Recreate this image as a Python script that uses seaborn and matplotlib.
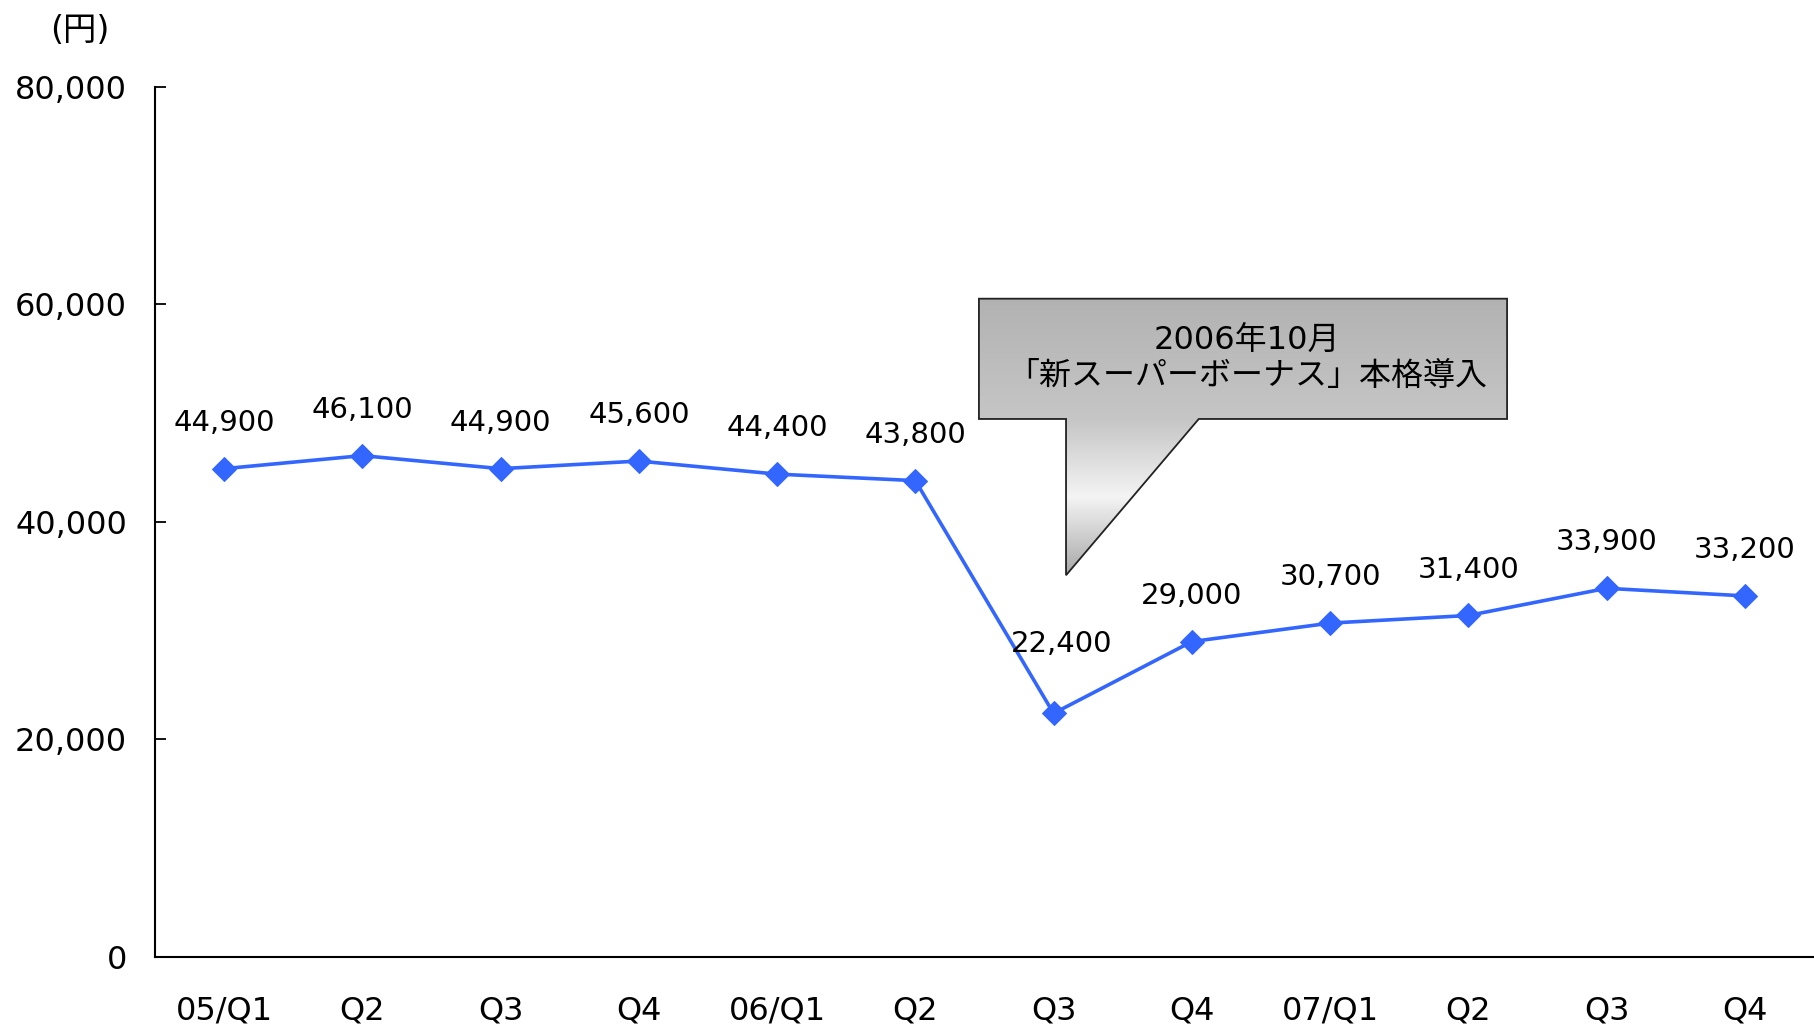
import numpy as np
import pandas as pd
import seaborn as sns
import matplotlib
matplotlib.use("Agg")
import matplotlib.pyplot as plt
from matplotlib.patches import Polygon
from matplotlib.colors import LinearSegmentedColormap

quarters = ["05/Q1", "Q2", "Q3", "Q4", "06/Q1", "Q2", "Q3", "Q4", "07/Q1", "Q2", "Q3", "Q4"]
values = [44900, 46100, 44900, 45600, 44400, 43800, 22400, 29000, 30700, 31400, 33900, 33200]
y_ticks = [0, 20000, 40000, 60000, 80000]
callout_text = "2006年10月\n「新スーパーボーナス」本格導入"
unit_text = "(円)"

LINE_COLOR = "#3366ff"

sns.set_theme(style="white")
plt.rcParams["font.family"] = ["DejaVu Sans", "Noto Sans CJK JP"]
plt.rcParams["text.color"] = "black"
plt.rcParams["xtick.labelcolor"] = "black"
plt.rcParams["ytick.labelcolor"] = "black"

fig = plt.figure(figsize=(18.14, 10.29), dpi=100)
ax = fig.add_axes([0.0854, 0.070, 0.9146, 0.8455])

df = pd.DataFrame({"pos": np.arange(len(values)), "value": values})
sns.lineplot(data=df, x="pos", y="value", ax=ax, color=LINE_COLOR, linewidth=2.6,
             marker="D", markersize=12, markeredgecolor=LINE_COLOR)

# data labels above each point
for i, v in enumerate(values):
    off = 50 if v < 25000 else 33
    dx = 6 if v < 25000 else 0
    ax.annotate(f"{v:,}", (i, v), xytext=(dx, off), textcoords="offset points",
                ha="center", va="center", fontsize=21, color="black")

ax.set_xlim(-0.5, len(values) - 0.5)
ax.set_ylim(0, 80000)
ax.set_yticks(y_ticks)
ax.set_yticklabels([f"{t:,}" for t in y_ticks], fontsize=23)
ax.set_xticks(np.arange(len(values) + 1) - 0.5)
ax.set_xticklabels([])
ax.set_xticks(np.arange(len(values)), minor=True)
ax.set_xticklabels(quarters, minor=True, fontsize=23)
ax.tick_params(axis="x", which="major", direction="in", length=8, width=1.3, color="black")
ax.tick_params(axis="x", which="minor", length=0, pad=28)
ax.tick_params(axis="y", direction="in", length=8, width=1.3, color="black", pad=20, left=True)
ax.set_xlabel("")
ax.set_ylabel("")
for side in ["top", "right"]:
    ax.spines[side].set_visible(False)
for side in ["left", "bottom"]:
    ax.spines[side].set_color("black")
    ax.spines[side].set_linewidth(1.5)
ax.grid(False)

fig.text(0.044, 0.970, unit_text, fontsize=24, ha="center", va="center")

# callout with metallic gradient
box_l, box_r, box_t, box_b = 5.46, 9.28, 60530, 49470
tail_l, tail_r, tip_y = 6.09, 7.05, 35100
shape = [(box_l, box_t), (box_r, box_t), (box_r, box_b), (tail_r, box_b),
         (tail_l, tip_y), (tail_l, box_b), (box_l, box_b)]
poly = Polygon(shape, closed=True, facecolor="none", edgecolor="#222222",
               linewidth=1.3, zorder=6)
ax.add_patch(poly)
cmap = LinearSegmentedColormap.from_list(
    "metal", [(0.0, "#b2b2b2"), (0.44, "#c6c6c6"), (0.72, "#f4f4f4"), (1.0, "#a8a8a8")])
grad = np.linspace(1, 0, 256).reshape(-1, 1)
img = ax.imshow(grad, cmap=cmap, aspect="auto", extent=[box_l, box_r, tip_y, box_t],
                origin="lower", zorder=5)
img.set_clip_path(poly)
ax.set_xlim(-0.5, len(values) - 0.5)
ax.set_ylim(0, 80000)
ax.text((box_l + box_r) / 2 + 0.03, (box_t + box_b) / 2, callout_text, ha="center", va="center",
        fontsize=23, linespacing=1.15, zorder=7)

fig.savefig("out.png", dpi=100)
